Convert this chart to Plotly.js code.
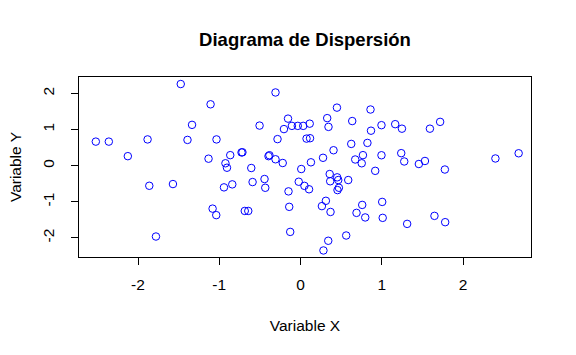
<!DOCTYPE html>
<html>
<head>
<meta charset="utf-8">
<script src="https://cdn.plot.ly/plotly-3.0.1.min.js"></script>
<style>html,body{margin:0;padding:0;background:#fff;}#chart{width:576px;height:355px;}</style>
</head>
<body>
<div id="chart"></div>
<script>
var xValues = [-2.519,-2.359,-2.125,-1.882,-1.861,-1.779,-1.570,-1.474,-1.391,-1.335,
 -1.132,-1.107,-1.034,-1.082,-1.037,-0.942,-0.924,-0.905,-0.865,-0.840,
 -0.726,-0.715,-0.606,-0.590,-0.443,-0.434,-0.686,-0.643,-0.504,
 -0.394,-0.383,-0.308,-0.308,-0.283,-0.219,-0.204,-0.154,-0.148,-0.139,
 -0.127,-0.106,-0.034,0.033,0.113,0.074,0.117,0.009,-0.022,0.048,
 0.105,0.128,0.263,0.312,0.369,0.277,0.328,0.344,0.406,0.359,
 0.365,0.451,0.464,0.472,0.455,0.448,0.587,0.562,0.341,0.282,
 0.636,0.624,0.673,0.768,0.753,0.689,0.759,0.796,0.823,0.861,
 0.867,0.919,0.996,0.996,1.005,1.011,1.165,1.248,1.239,1.276,
 1.312,1.456,1.531,1.592,1.718,1.648,1.776,1.780,2.398,2.684];
var yValues = [0.667,0.667,0.264,0.728,-0.556,-1.961,-0.508,2.261,0.714,1.131,
 0.194,1.700,0.728,-1.189,-1.369,-0.600,0.067,-0.056,0.292,-0.517,
 0.367,0.372,-0.064,-0.453,-0.369,-0.611,-1.253,-1.253,1.111,
 0.264,0.290,2.028,0.178,0.736,0.075,1.014,1.303,-0.711,-1.139,
 -1.833,1.103,1.103,1.103,1.164,0.750,0.761,-0.092,-0.444,-0.558,
 -0.653,0.094,-1.119,-0.972,-1.281,0.219,1.317,1.075,0.428,-0.231,
 -0.431,-0.322,-0.397,-0.611,-0.675,1.608,-0.397,-1.933,-2.078,-2.347,
 1.236,0.603,0.172,0.292,0.067,-1.306,-1.086,-1.433,0.631,1.556,
 0.969,-0.142,1.122,0.289,-1.003,-1.444,1.150,1.025,0.347,0.117,
 -1.611,0.047,0.131,1.025,1.214,-1.389,-0.106,-1.564,0.200,0.344];
var tickVals = [-2,-1,0,1,2];
var tickText = ["-2","-1","0","1","2"];

var fnt = {family: "Liberation Sans, Arial, sans-serif", size: 15.5, color: "#000"};

var trace = {
  x: xValues, y: yValues, type: "scatter", mode: "markers",
  marker: {symbol: "circle-open", size: 7.5, color: "#0000FF", line: {width: 1, color: "#0000FF"}},
  hoverinfo: "x+y"
};

var layout = {
  width: 576, height: 355,
  margin: {l: 79, r: 45, t: 77, b: 98, pad: 0},
  paper_bgcolor: "#fff", plot_bgcolor: "#fff",
  font: fnt,
  showlegend: false,
  title: {text: "<b>Diagrama de Dispersión</b>", font: {family: fnt.family, size: 18.5, color: "#000"},
          x: 0.5, xref: "paper", xanchor: "center", y: 1 - 40/355, yref: "container", yanchor: "middle"},
  xaxis: {
    range: [-2.726, 2.836], tickvals: tickVals, ticktext: tickText,
    showgrid: false, zeroline: false, showline: true, mirror: true, linecolor: "#000", linewidth: 1,
    ticks: "outside", ticklen: 7, tickwidth: 1, tickcolor: "#000", ticklabelstandoff: 6,
    tickfont: fnt,
    title: {text: "Variable X", font: fnt, standoff: 28}
  },
  yaxis: {
    range: [-2.528, 2.456], tickvals: tickVals, ticktext: tickText, tickangle: -90,
    showgrid: false, zeroline: false, showline: true, mirror: true, linecolor: "#000", linewidth: 1,
    ticks: "outside", ticklen: 7, tickwidth: 1, tickcolor: "#000", ticklabelstandoff: 11,
    tickfont: fnt,
    title: {text: "Variable Y", font: fnt, standoff: 14}
  }
};

Plotly.newPlot("chart", [trace], layout, {displayModeBar: false, staticPlot: true});
</script>
</body>
</html>
